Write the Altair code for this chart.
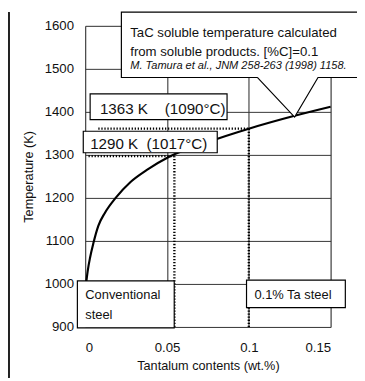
import altair as alt
import pandas as pd

# --- data ---
ta_curve = [0.0005, 0.0015, 0.003, 0.005, 0.008, 0.012, 0.0186, 0.0277, 0.0377, 0.051, 0.075, 0.1, 0.128, 0.15]
t_curve = [1000, 1030, 1062, 1095, 1135, 1165, 1200, 1237, 1265, 1295, 1330, 1361, 1391, 1412]

x_ticks = [0, 0.05, 0.1, 0.15]
y_ticks = [900, 1000, 1100, 1200, 1300, 1400, 1500, 1600]

# dotted guide lines (x, x2, y, y2)
guide_x = [0.008, 0.002, 0.0545, 0.1]
guide_x2 = [0.1, 0.0545, 0.0545, 0.1]
guide_y = [1361, 1297, 900, 900]
guide_y2 = [1361, 1297, 1297, 1361]

# annotation boxes (x, x2, y, y2)
box_x = [-0.0012, 0.003, -0.0048, 0.0986]
box_x2 = [0.0807, 0.0867, 0.0544, 0.159]
box_y = [1305, 1382, 898, 945]
box_y2 = [1355, 1442, 1007, 1009]

NB = "\u00a0"
# box labels
label_text = [f"1290 K{NB*2}(1017°C)", f"1363 K{NB*4}(1090°C)", "Conventional", "steel", "0.1% Ta steel"]
label_x = [0.003, 0.009, 0.0, 0.0, 0.1034]
label_y = [1314, 1395, 964, 918, 964]
label_size = [15.5, 15.5, 13.2, 13.2, 13.2]

# callout
callout_left, callout_right = 0.0221, 0.19
callout_top, callout_bottom = 1632, 1480
callout_base = [0.1052, 0.1423]
callout_tip = (0.128, 1388)
callout_lines = ["TaC soluble temperature calculated", "from soluble products. [%C]=0.1"]
callout_ref = "M. Tamura et al., JNM 258-263 (1998) 1158."
callout_text_x = 0.0275
callout_text_y = [1575, 1530]
callout_ref_y = 1500

FONT = "Liberation Sans"

xs = alt.Scale(domain=[0, 0.15], nice=False, zero=False)
ys = alt.Scale(domain=[900, 1600], nice=False, zero=False)

curve_df = pd.DataFrame({"ta": ta_curve, "t": t_curve})
base = alt.Chart(curve_df)

curve = base.mark_line(color="black", strokeWidth=2.2, interpolate="monotone", clip=False).encode(
    x=alt.X("ta:Q", scale=xs,
            axis=alt.Axis(values=x_ticks, format="~g", title="Tantalum contents (wt.%)",
                          grid=True, gridColor="#222", gridWidth=1, domain=False, ticks=False,
                          labelFontSize=13.5, labelPadding=14, labelFont=FONT, labelColor="#111",
                          titleFont=FONT, titleFontSize=13, titleFontWeight="normal", titleColor="#111",
                          titlePadding=6)),
    y=alt.Y("t:Q", scale=ys,
            axis=alt.Axis(values=y_ticks, format="d", title="Temperature (K)",
                          grid=True, gridColor="#333", gridWidth=1, domain=False, ticks=False,
                          labelFontSize=13.5, labelPadding=12, labelFont=FONT, labelColor="#111",
                          titleFont=FONT, titleFontSize=13, titleFontWeight="normal", titleColor="#111",
                          titlePadding=9)),
)

guides_df = pd.DataFrame({"x": guide_x, "x2": guide_x2, "y": guide_y, "y2": guide_y2})
guides = alt.Chart(guides_df).mark_rule(color="black", strokeWidth=2.4, strokeDash=[1.3, 1.8]).encode(
    x=alt.X("x:Q", scale=xs), x2="x2:Q", y=alt.Y("y:Q", scale=ys), y2="y2:Q")

boxes_df = pd.DataFrame({"x": box_x, "x2": box_x2, "y": box_y, "y2": box_y2})
boxes = alt.Chart(boxes_df).mark_rect(fill="white", stroke="black", strokeWidth=1.2).encode(
    x=alt.X("x:Q", scale=xs), x2="x2:Q", y=alt.Y("y:Q", scale=ys), y2="y2:Q")

labels_df = pd.DataFrame({"x": label_x, "y": label_y, "text": label_text, "size": label_size})
labels = alt.Chart(labels_df).mark_text(align="left", baseline="alphabetic", font=FONT, color="#111").encode(
    x=alt.X("x:Q", scale=xs), y=alt.Y("y:Q", scale=ys), text="text:N",
    size=alt.Size("size:Q", scale=None, legend=None))

# callout: white fill (box + triangle), then outline path
callout_fill_df = pd.DataFrame({"x": [callout_left], "x2": [callout_right],
                                "y": [callout_bottom], "y2": [callout_top]})
callout_fill = alt.Chart(callout_fill_df).mark_rect(fill="white").encode(
    x=alt.X("x:Q", scale=xs), x2="x2:Q", y=alt.Y("y:Q", scale=ys), y2="y2:Q")

tri_df = pd.DataFrame({"x": [callout_base[0], callout_tip[0], callout_base[1]],
                       "y": [callout_bottom, callout_tip[1], callout_bottom],
                       "y2": [callout_bottom] * 3})
tri_fill = alt.Chart(tri_df).mark_area(fill="white", interpolate="linear").encode(
    x=alt.X("x:Q", scale=xs), y=alt.Y("y:Q", scale=ys), y2="y2:Q")

outline_x = [callout_base[0], callout_left, callout_left, callout_right, callout_right,
             callout_base[1], callout_tip[0], callout_base[0]]
outline_y = [callout_bottom, callout_bottom, callout_top, callout_top, callout_bottom,
             callout_bottom, callout_tip[1], callout_bottom]
outline_df = pd.DataFrame({"x": outline_x, "y": outline_y, "o": list(range(len(outline_x)))})
outline = alt.Chart(outline_df).mark_line(color="black", strokeWidth=1.2, interpolate="linear").encode(
    x=alt.X("x:Q", scale=xs), y=alt.Y("y:Q", scale=ys), order="o:Q")

ct_df = pd.DataFrame({"x": [callout_text_x] * 2, "y": callout_text_y, "text": callout_lines})
callout_text = alt.Chart(ct_df).mark_text(align="left", baseline="alphabetic", font=FONT,
                                          fontSize=13.5, color="#111").encode(
    x=alt.X("x:Q", scale=xs), y=alt.Y("y:Q", scale=ys), text="text:N")

cr_df = pd.DataFrame({"x": [callout_text_x], "y": [callout_ref_y], "text": [callout_ref]})
callout_ref_text = alt.Chart(cr_df).mark_text(align="left", baseline="alphabetic", font=FONT,
                                              fontSize=11.3, fontStyle="italic", color="#111").encode(
    x=alt.X("x:Q", scale=xs), y=alt.Y("y:Q", scale=ys), text="text:N")

# scan frame line at far left of the figure
frame_line = alt.Chart(curve_df).mark_rule(color="#222", strokeWidth=1.5).encode(
    x=alt.value(-78.5), y=alt.value(-14), y2=alt.value(360))

chart = alt.layer(
    curve, guides, boxes, labels, callout_fill, tri_fill, outline, callout_text, callout_ref_text, frame_line
).properties(
    width=251, height=308,
    autosize=alt.AutoSizeParams(type="none"),
    padding={"left": 79, "top": 14, "right": 27, "bottom": 50},
).configure_view(
    stroke="black", strokeWidth=1.2
).configure(background="white")

chart.save("out.html", embed_options={"renderer": "svg", "actions": False})
